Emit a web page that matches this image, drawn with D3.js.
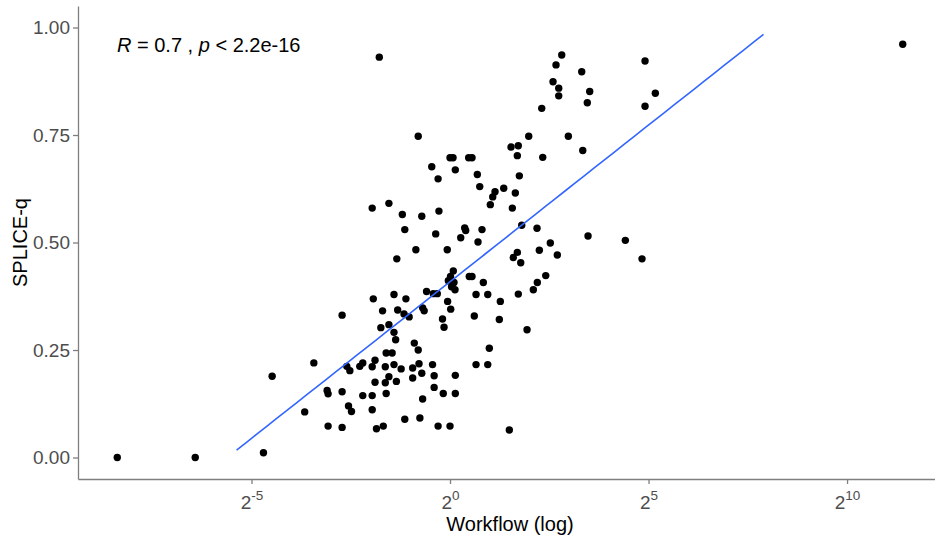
<!DOCTYPE html>
<html>
<head>
<meta charset="utf-8">
<script src="https://cdn.jsdelivr.net/npm/d3@7"></script>
<style>
  body { margin: 0; background: #fff; }
  text { font-family: "Liberation Sans", Arial, sans-serif; }
</style>
</head>
<body>
<div id="div_canvas"></div>
<script>
// values
var workflow = [0.0030, 0.0117, 0.0385, 0.0448, 0.0791, 0.0928, 0.117, 0.119, 0.119, 0.152,
    0.152, 0.152, 0.165, 0.174, 0.170, 0.179, 0.207, 0.218, 0.218, 0.257,
    0.257, 0.257, 0.262, 0.257, 0.270, 0.270, 0.277, 0.291, 0.299, 0.308,
    0.312, 0.323, 0.323, 0.328, 0.328, 0.344, 0.344, 0.344, 0.364, 0.376,
    0.376, 0.387, 0.376, 0.392, 0.395, 0.401, 0.426, 0.435, 0.448, 0.454,
    0.463, 0.454, 0.490, 0.521, 0.521, 0.536, 0.551, 0.574, 0.574, 0.582,
    0.591, 0.611, 0.611, 0.620, 0.637, 0.620, 0.664, 0.727, 0.737, 0.747,
    0.758, 0.758, 0.779, 0.801, 0.812, 0.824, 0.812, 0.877, 0.889, 0.901,
    0.953, 0.959, 1.000, 1.054, 1.000, 1.012, 1.059, 1.009, 0.971, 1.072,
    1.027, 1.091, 1.097, 1.097, 1.097, 1.206, 1.292, 1.315, 1.385, 1.468,
    1.400, 1.468, 1.528, 1.575, 1.575, 1.611, 1.630, 1.680, 1.748, 1.789,
    1.932, 1.932, 1.986, 2.021, 2.108, 2.194, 2.365, 2.407, 2.554, 2.816,
    2.902, 2.967, 3.019, 3.127, 3.238, 3.238, 3.294, 3.294, 3.354, 3.437,
    3.497, 3.837, 3.952, 4.282, 4.592, 4.567, 4.755, 4.959, 5.045, 5.318,
    5.761, 6.039, 6.364, 6.511, 6.672, 6.672, 7.032, 7.890, 9.967, 10.15,
    10.99, 11.13, 11.46, 21.35, 28.56, 30.11, 30.11, 36.03, 2707];

var spliceq = [0, 0, 0.011, 0.189, 0.106, 0.220, 0.156, 0.148, 0.073, 0.331,
    0.153, 0.070, 0.212, 0.202, 0.120, 0.107, 0.212, 0.220, 0.144, 0.144,
    0.211, 0.111, 0.369, 0.580, 0.226, 0.175, 0.067, 0.931, 0.302, 0.341,
    0.073, 0.211, 0.174, 0.243, 0.149, 0.309, 0.188, 0.591, 0.243, 0.379,
    0.291, 0.274, 0.216, 0.177, 0.462, 0.343, 0.206, 0.565, 0.334, 0.530,
    0.369, 0.089, 0.327, 0.208, 0.185, 0.266, 0.483, 0.747, 0.250, 0.218,
    0.092, 0.561, 0.196, 0.348, 0.341, 0.136, 0.386, 0.676, 0.216, 0.381,
    0.190, 0.163, 0.520, 0.381, 0.648, 0.573, 0.073, 0.322, 0.149, 0.303,
    0.483, 0.363, 0.697, 0.697, 0.073, 0.345, 0.434, 0.421, 0.411, 0.407,
    0.397, 0.390, 0.669, 0.191, 0.149, 0.511, 0.534, 0.528, 0.697, 0.697,
    0.421, 0.421, 0.329, 0.379, 0.216, 0.658, 0.501, 0.630, 0.530, 0.407,
    0.379, 0.216, 0.254, 0.588, 0.606, 0.618, 0.321, 0.363, 0.626, 0.064,
    0.722, 0.580, 0.465, 0.615, 0.702, 0.477, 0.725, 0.380, 0.655, 0.453,
    0.540, 0.297, 0.747, 0.390, 0.407, 0.533, 0.482, 0.812, 0.698, 0.423,
    0.499, 0.874, 0.913, 0.471, 0.859, 0.841, 0.936, 0.747, 0.897, 0.714,
    0.825, 0.515, 0.851, 0.505, 0.462, 0.922, 0.817, 0.847, 0.961];

var xTickExps = [-5, 0, 5, 10];
var yTicks = [0, 0.25, 0.5, 0.75, 1];
var statLabel = { r: "0.7", p: "2.2e-16" };

var W = 935, H = 537;
var margin = { left: 78, right: -7, top: 6, bottom: 58 };

var data = workflow.map(function (w, i) {
    return { x: w, y: spliceq[i] };
});

var svg = d3.select("#div_canvas").append("svg")
    .attr("width", W)
    .attr("height", H);

// Scales (5% expansion like ggplot)
var lx = d3.extent(data, function (d) { return Math.log2(d.x); });
var pad = (lx[1] - lx[0]) * 0.05;
var x = d3.scaleLog().base(2)
    .domain([Math.pow(2, lx[0] - pad), Math.pow(2, lx[1] + pad)])
    .range([margin.left, W - margin.right]);

var y = d3.scaleLinear()
    .domain([-0.05, 1.05])
    .range([H - margin.bottom, margin.top]);

// Axes
var yAxis = d3.axisLeft(y).tickValues(yTicks).tickFormat(d3.format(".2f"))
    .tickSize(5).tickPadding(3).tickSizeOuter(0);
var gy = svg.append("g").attr("transform", "translate(" + margin.left + ",0)").call(yAxis);
gy.selectAll("text").attr("font-size", 19).attr("fill", "#4d4d4d")
    .style("font-family", "Liberation Sans, Arial, sans-serif");

var xAxis = d3.axisBottom(x).tickValues(xTickExps.map(function (e) { return Math.pow(2, e); }))
    .tickFormat("").tickSize(5).tickSizeOuter(0);
var gx = svg.append("g").attr("transform", "translate(0," + (H - margin.bottom) + ")").call(xAxis);

// superscript labels 2^e
gx.selectAll(".tick").each(function (d, i) {
    var t = d3.select(this).append("text")
        .attr("y", 30)
        .attr("fill", "#4d4d4d")
        .attr("font-size", 19)
        .attr("text-anchor", "middle")
        .style("font-family", "Liberation Sans, Arial, sans-serif");
    t.append("tspan").text("2");
    t.append("tspan").attr("dy", -9).attr("font-size", 13.5).text(xTickExps[i]);
});

svg.selectAll(".domain, .tick line").attr("stroke", "#7f7f7f").attr("stroke-width", 1.3);

// Points
svg.selectAll("circle").data(data).enter().append("circle")
    .attr("cx", function (d) { return x(d.x); })
    .attr("cy", function (d) { return y(d.y); })
    .attr("r", 3.7)
    .attr("fill", "black");

// Linear fit on log2(x), evaluated at 80 points, dropped outside [0, 1]
var lxs = data.map(function (d) { return Math.log2(d.x); });
var mx = d3.mean(lxs), my = d3.mean(data, function (d) { return d.y; });
var sxy = d3.sum(data, function (d, i) { return (lxs[i] - mx) * (d.y - my); });
var sxx = d3.sum(lxs, function (v) { return (v - mx) * (v - mx); });
var slope = sxy / sxx, intercept = my - slope * mx;

var fit = d3.range(80).map(function (k) {
    var v = lx[0] + (lx[1] - lx[0]) * k / 79;
    return { x: Math.pow(2, v), y: intercept + slope * v };
}).filter(function (d) { return d.y >= 0 && d.y <= 1; });

svg.append("path").datum(fit)
    .attr("fill", "none")
    .attr("stroke", "#3366FF")
    .attr("stroke-width", 1.6)
    .attr("d", d3.line().x(function (d) { return x(d.x); }).y(function (d) { return y(d.y); }));

// Stat label
var lab = svg.append("text").attr("x", 117).attr("y", 52).attr("font-size", 20).attr("fill", "black");
lab.append("tspan").attr("font-style", "italic").text("R");
lab.append("tspan").text(" = " + statLabel.r + " , ");
lab.append("tspan").attr("font-style", "italic").text("p");
lab.append("tspan").text(" < " + statLabel.p);

// Axis titles
svg.append("text")
    .attr("x", (margin.left + W - margin.right) / 2)
    .attr("y", 531)
    .attr("text-anchor", "middle")
    .attr("font-size", 20)
    .text("Workflow (log)");

svg.append("text")
    .attr("transform", "translate(27," + ((margin.top + H - margin.bottom) / 2) + ") rotate(-90)")
    .attr("text-anchor", "middle")
    .attr("font-size", 20)
    .text("SPLICE-q");
</script>
</body>
</html>
